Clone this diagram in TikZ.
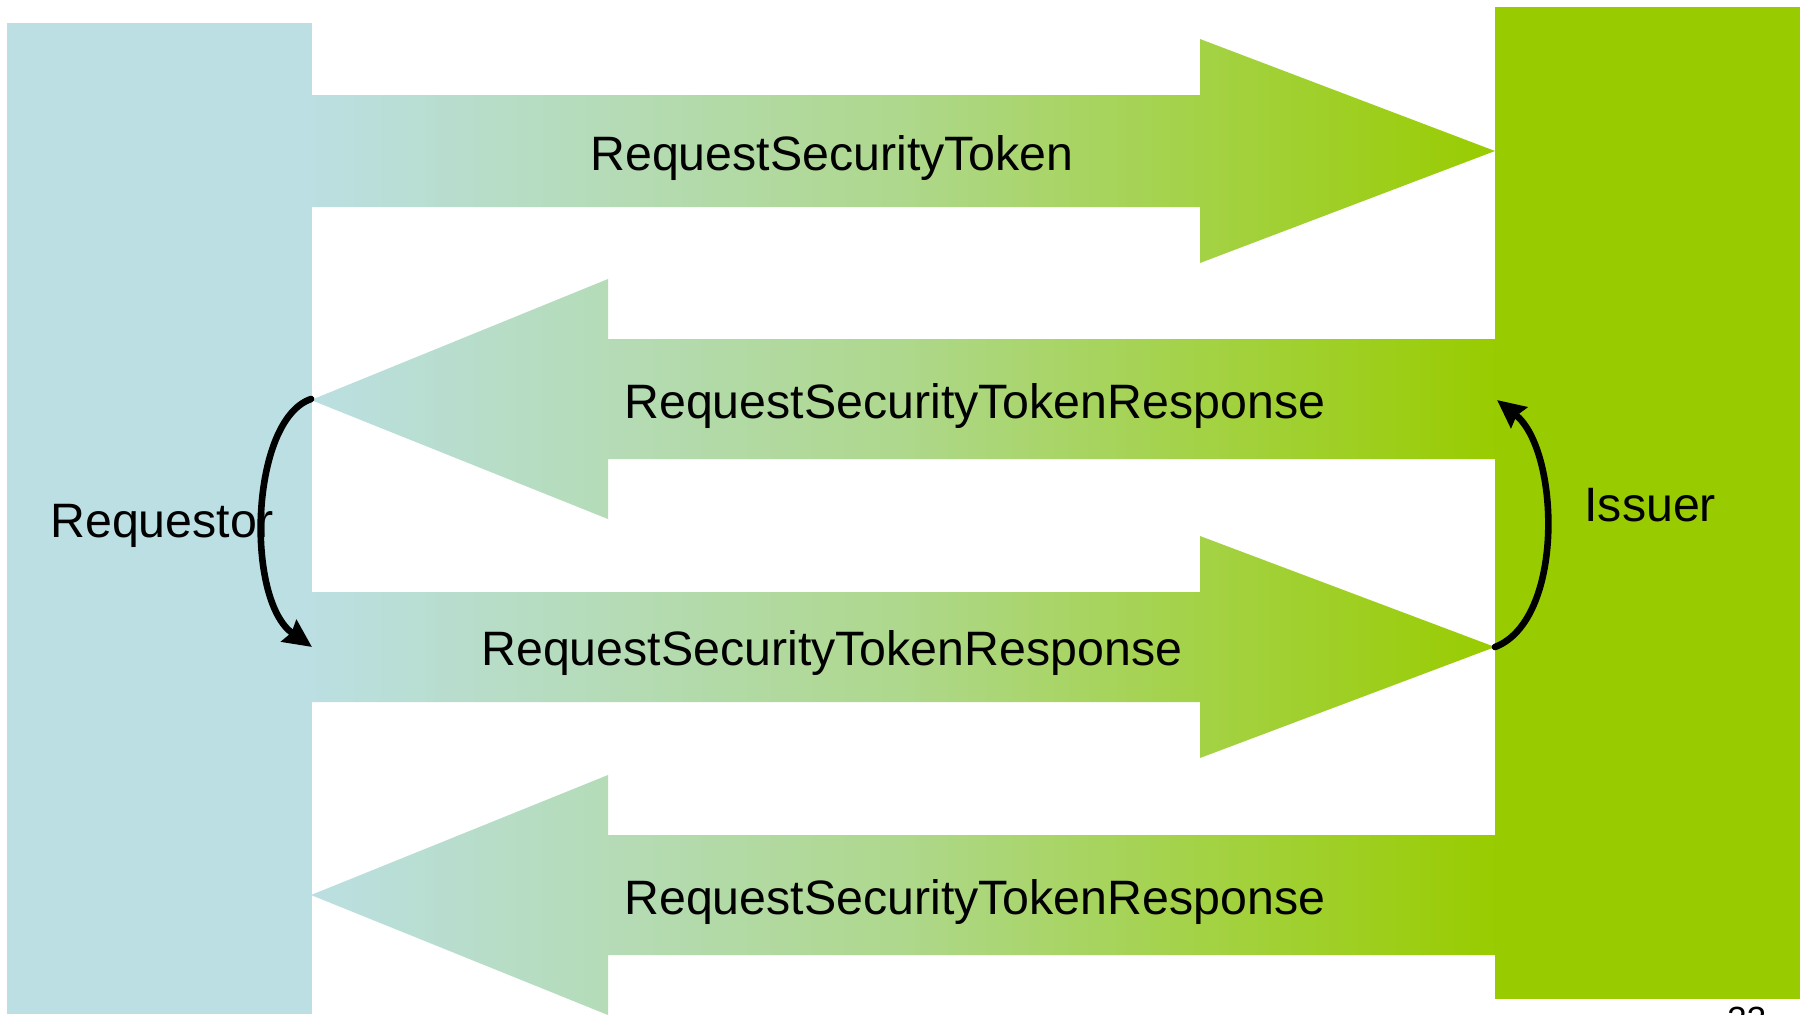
\documentclass[tikz,border=0pt]{standalone}
\usepackage{fontspec}
\setmainfont{Liberation Sans}
\usetikzlibrary{arrows.meta}
\definecolor{reqblue}{HTML}{BBDFE2}
\definecolor{issgreen}{HTML}{99CC00}
\colorlet{midmix}{reqblue!62!issgreen}
\pgfdeclarehorizontalshading{flowshade}{100bp}{color(0bp)=(reqblue); color(25bp)=(reqblue); color(50bp)=(midmix); color(75bp)=(issgreen); color(100bp)=(issgreen)}
\begin{document}
\begin{tikzpicture}[x=0.5pt,y=-0.5pt,
  lbl/.style={font=\fontsize{24.15}{28}\selectfont, inner sep=0pt, anchor=base west},
  flowarrow/.style={shading=flowshade},
  loopline/.style={line width=3.3pt, line cap=round, -{Stealth[length=14pt,width=13pt,inset=1.5pt]}}]
\useasboundingbox (0,0) rectangle (1808,1014);
\clip (0,0) rectangle (1808,1014);
\fill[white] (0,0) rectangle (1808,1014);
% actors
\fill[reqblue] (7,23) rectangle (312,1014);
\fill[issgreen] (1495,7) rectangle (1800,999);
% message arrows
\shade[flowarrow] (312,95) -- (1200,95) -- (1200,39) -- (1495,151) -- (1200,263) -- (1200,207) -- (312,207) -- cycle;
\shade[flowarrow] (1495,339) -- (608,339) -- (608,279) -- (311,400) -- (608,519) -- (608,459) -- (1495,459) -- cycle;
\shade[flowarrow] (312,592) -- (1200,592) -- (1200,536) -- (1495,647) -- (1200,758) -- (1200,702) -- (312,702) -- cycle;
\shade[flowarrow] (1495,835) -- (608,835) -- (608,775) -- (311,895) -- (608,1015) -- (608,955) -- (1495,955) -- cycle;
% tip coordinates
\coordinate (ltop) at (311,399);
\coordinate (lbot) at (312,647);
\coordinate (rbot) at (1495,647);
\coordinate (rtop) at (1497,400);
% labels
\node[lbl] (m1) at (590,170) {RequestSecurityToken};
\node[lbl] (m2) at (624,418) {RequestSecurityTokenResponse};
\node[lbl] (m3) at (481,665) {RequestSecurityTokenResponse};
\node[lbl] (m4) at (624,914) {RequestSecurityTokenResponse};
\node[lbl] (req) at (50,537) {Requestor};
\node[lbl] (iss) at (1584,521) {Issuer};
\node[lbl, font=\fontsize{17.5}{20}\selectfont] (pg) at (1727,1031) {33};
% loops
\draw[loopline] (ltop) .. controls (250,420) and (245,600) .. (lbot);
\draw[loopline] (rbot) .. controls (1565,620) and (1560,450) .. (rtop);
\end{tikzpicture}
\end{document}
